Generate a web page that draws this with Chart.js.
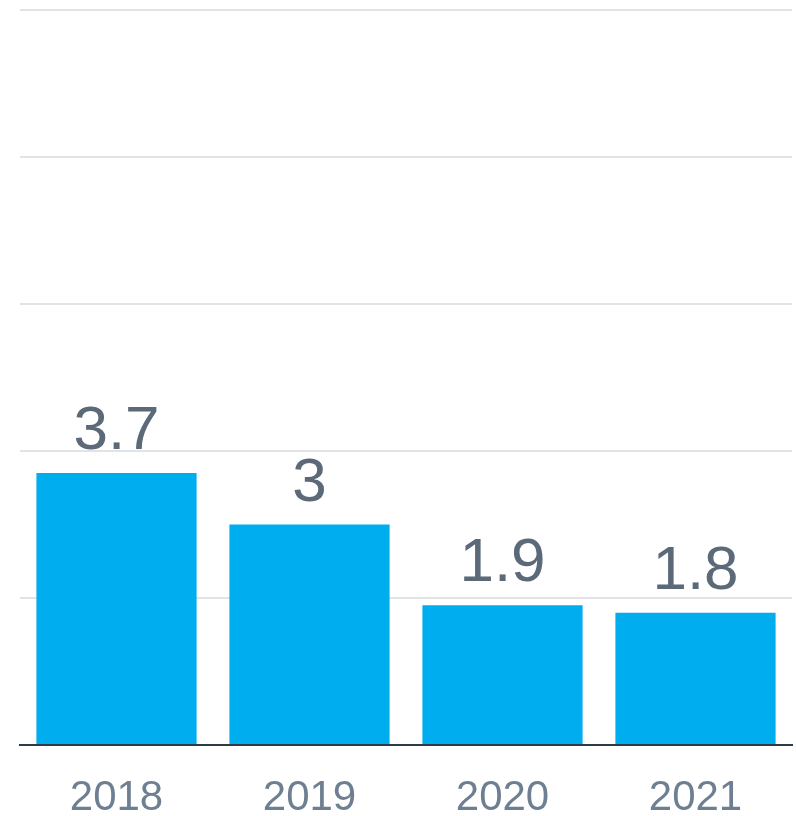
<!DOCTYPE html>
<html>
<head>
<meta charset="utf-8">
<script src="https://cdn.jsdelivr.net/npm/chart.js@4/dist/chart.umd.min.js"></script>
<style>
  html, body { margin: 0; padding: 0; background: #fff; }
  #wrap { width: 796px; height: 816px; }
</style>
</head>
<body>
<div id="wrap"><canvas id="chart"></canvas></div>
<script>
const years = ["2018", "2019", "2020", "2021"];
const values = [3.7, 3, 1.9, 1.8];
const yMin = 0, yMax = 10, yStep = 2;

// writes each bar's value just above it
const valueLabels = {
  id: "valueLabels",
  afterDatasetsDraw(chart){
    const ctx = chart.ctx;
    const meta = chart.getDatasetMeta(0);
    ctx.save();
    ctx.font = "62px 'Liberation Sans', Arial, sans-serif";
    ctx.fillStyle = "#5b6978";
    ctx.textAlign = "center";
    ctx.textBaseline = "alphabetic";
    meta.data.forEach((bar, i) => {
      ctx.fillText(String(values[i]), bar.x, bar.y - 24);
    });
    ctx.restore();
  }
};

new Chart(document.getElementById("chart"), {
  type: "bar",
  data: {
    labels: years,
    datasets: [{
      data: values,
      backgroundColor: "#00adee",
      borderWidth: 0,
      barPercentage: 0.83,
      categoryPercentage: 1
    }]
  },
  options: {
    responsive: true,
    maintainAspectRatio: false,
    animation: false,
    layout: { padding: { left: 20, right: 4, top: 10, bottom: 0 } },
    plugins: { legend: { display: false }, tooltip: { enabled: false } },
    scales: {
      x: {
        afterFit(scale){ scale.height = 71; },
        grid: { display: false },
        border: { display: true, color: "#2e3a44", width: 2 },
        ticks: {
          color: "#6f7f92",
          padding: 20,
          font: { family: "'Liberation Sans', Arial, sans-serif", size: 42 }
        }
      },
      y: {
        min: yMin,
        max: yMax,
        ticks: { display: false, stepSize: yStep },
        border: { display: false },
        grid: {
          drawTicks: false,
          lineWidth: 2,
          color: c => c.tick && c.tick.value === 0 ? "rgba(0,0,0,0)" : "#e1e3e6"
        }
      }
    }
  },
  plugins: [valueLabels]
});
</script>
</body>
</html>
